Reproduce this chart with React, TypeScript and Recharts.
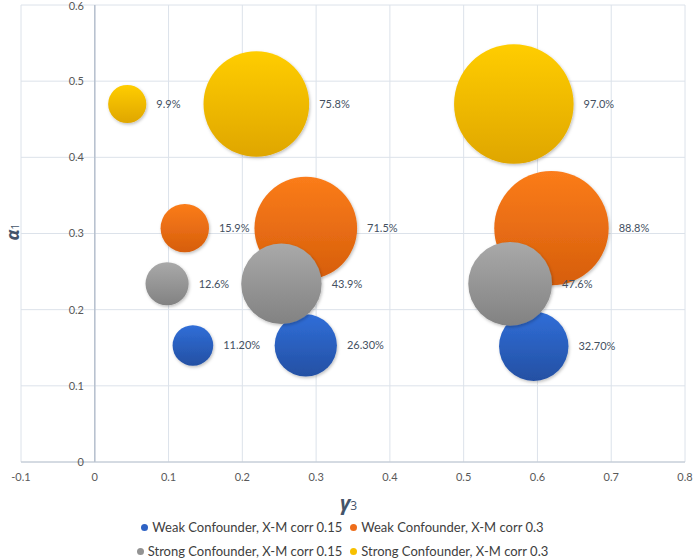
/** Bubble chart — power by gamma3 (x) and alpha1 (y) for four confounder scenarios */
import { ScatterChart, Scatter, XAxis, YAxis, ZAxis, CartesianGrid, Legend, Label, ReferenceLine } from 'recharts'

// [gamma3, alpha1, bubble size (%), label]
const weak015 = [
  { x: 0.133, y: 0.153, z: 11.2, label: '11.20%' },
  { x: 0.286, y: 0.153, z: 26.3, label: '26.30%' },
  { x: 0.595, y: 0.152, z: 32.7, label: '32.70%' },
]
const weak03 = [
  { x: 0.122, y: 0.307, z: 15.9, label: '15.9%' },
  { x: 0.286, y: 0.307, z: 71.5, label: '71.5%' },
  { x: 0.619, y: 0.307, z: 88.8, label: '88.8%' },
]
const strong015 = [
  { x: 0.098, y: 0.234, z: 12.6, label: '12.6%' },
  { x: 0.253, y: 0.234, z: 43.9, label: '43.9%' },
  { x: 0.563, y: 0.234, z: 47.6, label: '47.6%' },
]
const strong03 = [
  { x: 0.044, y: 0.47, z: 9.9, label: '9.9%' },
  { x: 0.219, y: 0.47, z: 75.8, label: '75.8%' },
  { x: 0.568, y: 0.47, z: 97.0, label: '97.0%' },
]

const seriesNames = [
  'Weak Confounder, X-M corr 0.15',
  'Weak Confounder, X-M corr 0.3',
  'Strong Confounder, X-M corr 0.15',
  'Strong Confounder, X-M corr 0.3',
]
const legendColors = ['#2e62c4', '#ee6d1a', '#939393', '#f7c000']

const xTicks = [-0.1, 0, 0.1, 0.2, 0.3, 0.4, 0.5, 0.6, 0.7, 0.8]
const yTicks = [0, 0.1, 0.2, 0.3, 0.4, 0.5, 0.6]

const FONT = 'Lato, "Open Sans", sans-serif'
const TITLE = '#44546a'

const fmt = (v: number) => String(+v.toFixed(1))

// eslint-disable-next-line @typescript-eslint/no-explicit-any
function Bubble(props: any) {
  const { cx, cy, width, payload, grad } = props
  const r = width / 2
  return (
    <g>
      <circle cx={cx} cy={cy} r={r} fill={`url(#${grad})`} filter="url(#bubbleShadow)" />
      <text x={cx + r + 10} y={cy} dy="0.35em" fontSize={11} fontFamily={FONT} fill="#44505f">
        {payload.label}
      </text>
    </g>
  )
}

// legend keeps the series order (Recharts sorts the payload by name otherwise)
function LegendBox() {
  const items = seriesNames.map((name, i) => ({ name, color: legendColors[i] }))
  const row = (list: { name: string; color: string }[]) => (
    <div style={{ display: 'flex', justifyContent: 'center', gap: 8, height: 24, alignItems: 'center' }}>
      {list.map(it => (
        <span key={it.name} style={{ display: 'flex', alignItems: 'center', gap: 4 }}>
          <span style={{ width: 7, height: 7, borderRadius: '50%', background: it.color, display: 'inline-block' }} />
          <span>{it.name}</span>
        </span>
      ))}
    </div>
  )
  return (
    <div style={{ height: 43, fontFamily: FONT, fontSize: 13, color: '#404040', marginTop: -1 }}>
      {row(items.slice(0, 2))}
      {row(items.slice(2, 4))}
    </div>
  )
}

// eslint-disable-next-line @typescript-eslint/no-explicit-any
function GammaTitle({ viewBox }: any) {
  return (
    <text x={viewBox.x + viewBox.width / 2 - 13} y={viewBox.y + 48} fill={TITLE} fontFamily='"Open Sans", sans-serif'>
      <tspan fontSize={20} fontStyle="italic" fontWeight={700}>γ</tspan>
      <tspan fontSize={12}>3</tspan>
    </text>
  )
}

function AlphaTitle() {
  return (
    <text transform="translate(19, 232) rotate(-90)" textAnchor="middle" fill={TITLE} fontFamily='"Open Sans", sans-serif'>
      <tspan fontSize={18} fontStyle="italic" fontWeight={700}>α</tspan>
      <tspan fontSize={11}>1</tspan>
    </text>
  )
}

const series = [
  { data: weak015, grad: 'gradBlue' },
  { data: weak03, grad: 'gradOrange' },
  { data: strong015, grad: 'gradGray' },
  { data: strong03, grad: 'gradYellow' },
]

export default function App() {
  return (
    <div style={{ position: 'absolute', left: 0, top: 0, background: '#fff' }}>
      <ScatterChart width={693} height={558} margin={{ top: 5, right: 8, bottom: 0, left: 0 }}>
        <defs>
          <linearGradient id="gradBlue" x1="0" y1="0" x2="0" y2="1">
            <stop offset="0%" stopColor="#306ed8" />
            <stop offset="100%" stopColor="#2450a3" />
          </linearGradient>
          <linearGradient id="gradOrange" x1="0" y1="0" x2="0" y2="1">
            <stop offset="0%" stopColor="#fb7c1a" />
            <stop offset="100%" stopColor="#d65e0c" />
          </linearGradient>
          <linearGradient id="gradGray" x1="0" y1="0" x2="0" y2="1">
            <stop offset="0%" stopColor="#a9a9a9" />
            <stop offset="100%" stopColor="#828282" />
          </linearGradient>
          <linearGradient id="gradYellow" x1="0" y1="0" x2="0" y2="1">
            <stop offset="0%" stopColor="#ffcd00" />
            <stop offset="100%" stopColor="#dfa600" />
          </linearGradient>
          <filter id="bubbleShadow" x="-20%" y="-20%" width="150%" height="150%">
            <feDropShadow dx="1" dy="1.5" stdDeviation="1.5" floodColor="#000" floodOpacity="0.25" />
          </filter>
        </defs>
        <CartesianGrid stroke="#dce2ea" />
        <XAxis
          type="number"
          dataKey="x"
          domain={[-0.1, 0.8]}
          ticks={xTicks}
          tickFormatter={fmt}
          height={54}
          axisLine={{ stroke: '#bcc4cf' }}
          tickLine={false}
          tickMargin={5}
          tick={{ fill: '#595959', fontSize: 11, fontFamily: FONT }}
          allowDataOverflow
        >
          <Label content={<GammaTitle />} />
        </XAxis>
        <YAxis
          type="number"
          dataKey="y"
          domain={[0, 0.6]}
          ticks={yTicks}
          tickFormatter={fmt}
          width={21}
          axisLine={false}
          tickLine={false}
          tick={{ fill: '#595959', fontSize: 11, fontFamily: FONT, dx: 71 }}
          allowDataOverflow
        >
          <Label content={<AlphaTitle />} />
        </YAxis>
        <ZAxis type="number" dataKey="z" domain={[0, 100]} range={[0, 11575]} />
        <ReferenceLine x={0} stroke="#b7c1ce" strokeWidth={1.5} />
        {series.map((s, i) => (
          <Scatter
            key={seriesNames[i]}
            name={seriesNames[i]}
            data={s.data}
            fill={legendColors[i]}
            shape={(p: object) => <Bubble {...p} grad={s.grad} />}
            isAnimationActive={false}
          />
        ))}
        <Legend verticalAlign="bottom" content={<LegendBox />} />
      </ScatterChart>
    </div>
  )
}
